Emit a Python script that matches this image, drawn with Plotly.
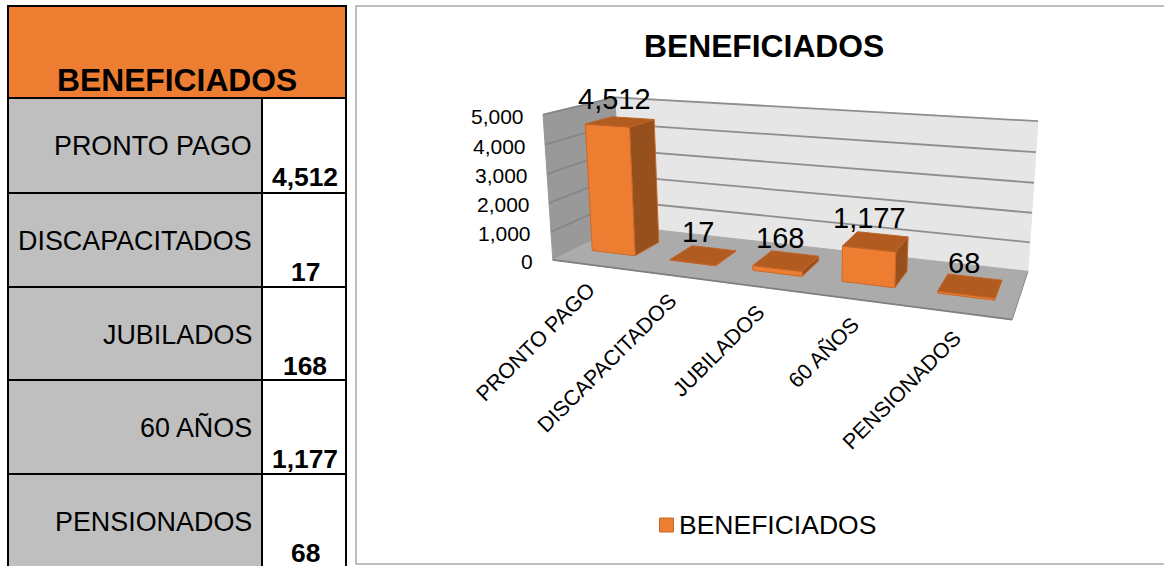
import numpy as np
import plotly.graph_objects as go

# ---- data ----
categories = ["PRONTO PAGO", "DISCAPACITADOS", "JUBILADOS", "60 AÑOS", "PENSIONADOS"]
values = [4512, 17, 168, 1177, 68]
tick_values = [0, 1000, 2000, 3000, 4000, 5000]
series_name = "BENEFICIADOS"
title_text = "BENEFICIADOS"

ORANGE = "#ED7D31"
EDGE = "#C9692A"
TOP = "#B25B20"
SIDE = "#96501E"
FONT = "Liberation Sans"
AXIS_MAX = 5000
N = len(categories)

# ---- perspective camera calibrated on the chart box (category, depth, value) -> pixel ----
box = [((0, 0, 0), (553, 261)), ((0, 0, 1), (543, 114)),
       ((0, 1, 0), (621, 225)), ((0, 1, 1), (615, 98)),
       ((N, 0, 0), (1012, 319)), ((N, 1, 0), (1028, 272)),
       ((N, 1, 1), (1038, 121))]
A, b = [], []
for (X, Y, Z), (px, py) in box:
    A.append([X, Y, Z, 1, 0, 0, 0, 0, -px * X, -px * Y, -px * Z])
    b.append(px)
    A.append([0, 0, 0, 0, X, Y, Z, 1, -py * X, -py * Y, -py * Z])
    b.append(py)
H = np.linalg.lstsq(np.array(A, float), np.array(b, float), rcond=None)[0]
H = np.append(H, 1.0).reshape(3, 4)


def project(cat, depth, value):
    p = H @ np.array([cat, depth, value / AXIS_MAX, 1.0])
    return float(p[0] / p[2]), float(p[1] / p[2])


def poly(points, fill, line=None, width=1.0):
    xs, ys = zip(*(project(*pt) for pt in points))
    fig.add_trace(go.Scatter(x=list(xs) + [xs[0]], y=list(ys) + [ys[0]], mode="lines",
                             fill="toself", fillcolor=fill,
                             line=dict(color=line or fill, width=width),
                             hoverinfo="skip", showlegend=False))


def seg(a, b_, color, width):
    (x0, y0), (x1, y1) = project(*a), project(*b_)
    fig.add_trace(go.Scatter(x=[x0, x1], y=[y0, y1], mode="lines",
                             line=dict(color=color, width=width),
                             hoverinfo="skip", showlegend=False))


fig = go.Figure()

# chart walls and floor
poly([(0, 1, 0), (N, 1, 0), (N, 1, AXIS_MAX), (0, 1, AXIS_MAX)], "#E6E6E6")
poly([(0, 0, 0), (0, 1, 0), (0, 1, AXIS_MAX), (0, 0, AXIS_MAX)], "#999999")
poly([(0, 0, 0), (N, 0, 0), (N, 1, 0), (0, 1, 0)], "#ABABAB")
for t in tick_values:
    if t:
        seg((0, 1, t), (N, 1, t), "#8E8E8E", 1.8)
        seg((0, 0, t), (0, 1, t), "#868686", 1.8)
seg((0, 0, 0), (N, 0, 0), "#7F7F7F", 1.8)
seg((N, 0, 0), (N, 1, 0), "#8E8E8E", 1.0)

# bars
GAP = 0.22
D0, D1 = 0.31, 0.69
for i, v in enumerate(values):
    l, r = i + GAP, i + 1 - GAP
    poly([(r, D0, 0), (r, D1, 0), (r, D1, v), (r, D0, v)], SIDE, EDGE, 1)
    poly([(l, D0, 0), (r, D0, 0), (r, D0, v), (l, D0, v)], ORANGE, EDGE, 1)
    poly([(l, D0, v), (r, D0, v), (r, D1, v), (l, D1, v)], TOP, "#BE6326", 1)

annotations = []


def text(x, y, s, size, xanchor="center", yanchor="middle", bold=False, angle=0, color="#000000"):
    annotations.append(dict(x=x, y=y, xref="x", yref="y", text=f"<b>{s}</b>" if bold else s,
                            showarrow=False, xanchor=xanchor, yanchor=yanchor, textangle=angle,
                            font=dict(family=FONT, size=size, color=color),
                            borderpad=0, borderwidth=0))


# value-axis tick labels
for t in tick_values:
    x, y = project(0, 0, t)
    text(x - 19.5, y + 1.5, f"{t:,}", 21, xanchor="right")

# data labels
for i, v in enumerate(values):
    x, y = project(i + 0.5, 0.5, v)
    text(x - 6, y - 23, f"{v:,}", 29)

# category labels
for i, c in enumerate(categories):
    x, y = project(i + 0.5, 0, 0)
    text(x + 8, y + 13, c, 21.4, xanchor="right", yanchor="top", angle=-45)

text(764, 46, title_text, 31.8, bold=True)

# ---- table on the left ----
T_L, T_M, T_R = 8, 262, 346
T_TOP, T_HEAD = 6, 98
row_edges = [98, 193, 287, 380, 474, 575]
shapes = [dict(type="rect", x0=T_L, x1=T_R, y0=T_TOP, y1=T_HEAD, fillcolor=ORANGE,
               line=dict(color="#000000", width=2), layer="below"),
          dict(type="rect", x0=356, x1=1175, y0=6, y1=564, fillcolor="rgba(0,0,0,0)",
               line=dict(color="#ABABAB", width=1.5), layer="below")]
text((T_L + T_R) / 2, T_HEAD - 18, series_name, 31.8, bold=True)
for i, (c, v) in enumerate(zip(categories, values)):
    y0, y1 = row_edges[i], row_edges[i + 1]
    shapes.append(dict(type="rect", x0=T_L, x1=T_M, y0=y0, y1=y1, fillcolor="#BFBFBF",
                       line=dict(color="#000000", width=2), layer="below"))
    shapes.append(dict(type="rect", x0=T_M, x1=T_R, y0=y0, y1=y1, fillcolor="#FFFFFF",
                       line=dict(color="#000000", width=2), layer="below"))
    text(T_M - 10, y0 + 47.5, c, 26.9, xanchor="right")
    text((T_M + T_R) / 2 + 1, y0 + 78.5, f"{v:,}", 26.4, bold=True)

# legend key and entry
shapes.append(dict(type="rect", x0=659.5, x1=673.5, y0=518, y1=532, fillcolor=ORANGE,
                   line=dict(color=EDGE, width=1), layer="above"))
text(679, 525, series_name, 26.5, xanchor="left")

fig.update_layout(
    width=1164, height=566, margin=dict(l=0, r=0, t=0, b=0),
    paper_bgcolor="#FFFFFF", plot_bgcolor="#FFFFFF",
    xaxis=dict(range=[0, 1164], visible=False, fixedrange=True),
    yaxis=dict(range=[566, 0], visible=False, fixedrange=True),
    annotations=annotations, shapes=shapes,
    showlegend=False,
)
fig.write_html("out.html", config=dict(displayModeBar=False),
               post_script="document.body.style.margin='0';document.body.style.overflow='hidden';")
